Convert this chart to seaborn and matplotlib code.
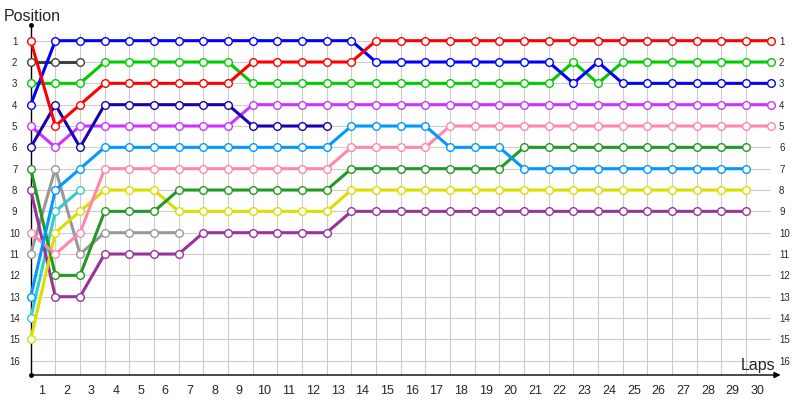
import matplotlib
matplotlib.use('Agg')
import matplotlib.pyplot as plt
import seaborn as sns
import numpy as np

# positions per lap (index 0 = grid), one list per driver
red_pos = [1, 5, 4, 3, 3, 3, 3, 3, 3, 2, 2, 2, 2, 2, 1, 1, 1, 1, 1, 1, 1, 1, 1, 1, 1, 1, 1, 1, 1, 1, 1]
blue_pos = [4, 1, 1, 1, 1, 1, 1, 1, 1, 1, 1, 1, 1, 1, 2, 2, 2, 2, 2, 2, 2, 2, 3, 2, 3, 3, 3, 3, 3, 3, 3]
green_pos = [3, 3, 3, 2, 2, 2, 2, 2, 2, 3, 3, 3, 3, 3, 3, 3, 3, 3, 3, 3, 3, 3, 2, 3, 2, 2, 2, 2, 2, 2, 2]
darkgray_pos = [2, 2, 2]
navy_pos = [6, 4, 6, 4, 4, 4, 4, 4, 4, 5, 5, 5, 5]
violet_pos = [5, 6, 5, 5, 5, 5, 5, 5, 5, 4, 4, 4, 4, 4, 4, 4, 4, 4, 4, 4, 4, 4, 4, 4, 4, 4, 4, 4, 4, 4, 4]
lightblue_pos = [13, 8, 7, 6, 6, 6, 6, 6, 6, 6, 6, 6, 6, 5, 5, 5, 5, 6, 6, 6, 7, 7, 7, 7, 7, 7, 7, 7, 7, 7]
pink_pos = [10, 11, 10, 7, 7, 7, 7, 7, 7, 7, 7, 7, 7, 6, 6, 6, 6, 5, 5, 5, 5, 5, 5, 5, 5, 5, 5, 5, 5, 5, 5]
darkgreen_pos = [7, 12, 12, 9, 9, 9, 8, 8, 8, 8, 8, 8, 8, 7, 7, 7, 7, 7, 7, 7, 6, 6, 6, 6, 6, 6, 6, 6, 6, 6]
yellow_pos = [15, 10, 9, 8, 8, 8, 9, 9, 9, 9, 9, 9, 9, 8, 8, 8, 8, 8, 8, 8, 8, 8, 8, 8, 8, 8, 8, 8, 8, 8]
purple_pos = [8, 13, 13, 11, 11, 11, 11, 10, 10, 10, 10, 10, 10, 9, 9, 9, 9, 9, 9, 9, 9, 9, 9, 9, 9, 9, 9, 9, 9, 9]
gray_pos = [11, 7, 11, 10, 10, 10, 10]
cyan_pos = [14, 9, 8]

drivers = [
    (darkgray_pos, '#404040'),
    (gray_pos, '#999999'),
    (cyan_pos, '#33cccc'),
    (purple_pos, '#993399'),
    (yellow_pos, '#dddd00'),
    (darkgreen_pos, '#229922'),
    (pink_pos, '#ff88aa'),
    (lightblue_pos, '#0099ff'),
    (violet_pos, '#cc33ff'),
    (navy_pos, '#1a00b0'),
    (green_pos, '#00cc00'),
    (blue_pos, '#0000ff'),
    (red_pos, '#ff0000'),
]

lap_labels = [str(i) for i in range(1, 31)]
position_labels = [str(i) for i in range(1, 17)]

sns.set_theme(style="whitegrid")
plt.rcParams['font.family'] = ['Liberation Sans', 'DejaVu Sans']

fig = plt.figure(figsize=(8, 4), dpi=100)
y_top, y_bot = 0.64, 16.67
ax = fig.add_axes([30.7 / 800, 25 / 400, 740 / 800, 342 / 400])

for pos, color in drivers:
    laps = np.arange(len(pos))
    sns.lineplot(x=laps, y=pos, color=color, linewidth=2.2, marker='o',
                 markersize=5.5, markerfacecolor='white', markeredgecolor=color,
                 markeredgewidth=1.0, clip_on=False, ax=ax, zorder=3)

ax.set_xlim(0, 30)
ax.set_ylim(y_bot, y_top)
ax.set_xlabel('')
ax.set_ylabel('')

# grid on integer laps / positions, labels shifted between grid lines
ax.set_xticks(range(0, 31))
ax.set_xticklabels([])
ax.set_xticks([i - 0.55 for i in range(1, 31)], minor=True)
ax.set_xticklabels(lap_labels, minor=True, fontsize=9)
ax.set_yticks(range(1, 17))
ax.set_yticklabels(position_labels, fontsize=7)
ax.tick_params(axis='x', which='both', length=0, pad=7)
ax.tick_params(axis='y', length=0, pad=11.5)
for lbl in ax.get_yticklabels():
    lbl.set_ha('center')
ax.grid(True, which='major', color='#cccccc', linewidth=0.8)
ax.grid(False, which='minor')
for s in ax.spines.values():
    s.set_visible(False)

ax2 = ax.twinx()
ax2.set_ylim(y_bot, y_top)
ax2.set_yticks(range(1, 17))
ax2.set_yticklabels(position_labels, fontsize=7)
ax2.tick_params(axis='y', length=0, pad=6)
ax2.grid(False)
for s in ax2.spines.values():
    s.set_visible(False)

# black axes with arrow and dots
ax.plot([0, 0], [y_bot, 0.26], color='black', lw=1, clip_on=False, zorder=2)
ax.plot([0, 0], [y_bot, 0.26], 'o', color='black', markersize=2.5, clip_on=False, zorder=2)
ax.annotate('', xy=(30.4, y_bot), xytext=(0, y_bot),
            arrowprops=dict(arrowstyle='-|>', color='black', lw=1, mutation_scale=9,
                            shrinkA=0, shrinkB=0),
            annotation_clip=False, zorder=2)

fig.text(4 / 800, 1 - 20.7 / 400, 'Position', fontsize=11.5, va='baseline', ha='left')
fig.text(775 / 800, 1 - 370 / 400, 'Laps', fontsize=11.5, va='baseline', ha='right')

fig.savefig('out.png', dpi=100)
